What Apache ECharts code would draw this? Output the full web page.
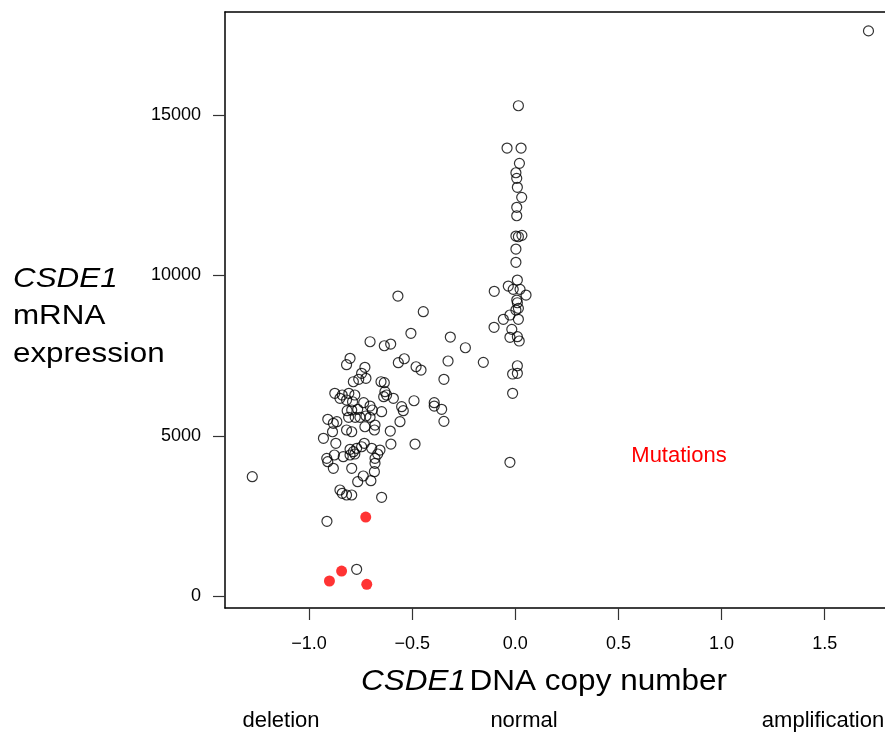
<!DOCTYPE html>
<html>
<head>
<meta charset="utf-8">
<script src="https://cdn.jsdelivr.net/npm/echarts@6/dist/echarts.min.js"></script>
<style>
  html, body { margin: 0; padding: 0; background: #fff; }
  #chart { width: 885px; height: 732px; }
</style>
</head>
<body>
<div id="chart"></div>
<script>
// CSDE1 DNA copy number (log2 ratio) per sample, without mutations
const copyNumber = [
  1.712, -1.275, -0.913, -0.769,
  0.015, -0.040, 0.028, 0.020, 0.003, 0.007, 0.010, 0.031, 0.007, 0.007,
  0.003, 0.015, 0.032, 0.003, 0.003, 0.010, -0.034, -0.102, -0.010, 0.023,
  0.052, 0.007, 0.010, 0.003, 0.015, -0.026, -0.058, 0.015, -0.103, -0.017,
  -0.026, 0.010, 0.019, -0.242, -0.155, 0.010, -0.013, 0.010, -0.013, -0.026,
  -0.569, -0.446, -0.506, -0.704, -0.635, -0.604, -0.315, -0.326, -0.346, -0.346,
  -0.393, -0.393, -0.357, -0.486, -0.491, -0.538, -0.567, -0.481, -0.457, -0.603,
  -0.648, -0.559,
  -0.801, -0.818, -0.729, -0.745, -0.759, -0.724, -0.785, -0.651, -0.635,
  -0.632, -0.624, -0.638, -0.591, -0.875, -0.839, -0.807, -0.778,
  -0.850, -0.818, -0.789, -0.735, -0.704, -0.693, -0.551, -0.543,
  -0.815, -0.793, -0.764, -0.808, -0.776, -0.753, -0.724, -0.704, -0.648,
  -0.680, -0.683, -0.909, -0.882, -0.865, -0.930, -0.870, -0.886,
  -0.818, -0.793, -0.729, -0.606, -0.732, -0.745, -0.769, -0.801,
  -0.696, -0.656, -0.667, -0.680, -0.877, -0.834, -0.801, -0.778, -0.785,
  -0.914, -0.909, -0.882, -0.793, -0.680, -0.683, -0.737, -0.764, -0.700,
  -0.850, -0.839, -0.818, -0.793
];
// CSDE1 mRNA expression for the same samples
const expression = [
  17620, 3732, 2343, 847,
  15289, 13971, 13971, 13494, 13201, 13027, 12747, 12435, 12124, 11862,
  11230, 11208, 11251, 10825, 10411, 9859, 9672, 9507, 9569, 9569,
  9392, 9236, 9152, 8925, 8977, 8769, 8635, 8635, 8386, 8323,
  8074, 8093, 7959, 7750, 7295, 7189, 6931, 6953, 6330, 4180,
  9360, 8872, 8199, 7937, 7812, 7865, 8083, 7336, 6766, 5457,
  6037, 5934, 5831, 4750, 6099, 7407, 7283, 7158, 7055, 4750,
  3090, 5445,
  7420, 7221, 7140, 6953, 6766, 6797, 6691, 6691, 6660,
  6380, 6277, 6224, 6174, 6330, 6277, 6330, 6277,
  6174, 6121, 6068, 6037, 5934, 5810, 5913, 5788,
  5788, 5810, 5831, 5582, 5582, 5582, 5623, 5582, 5757,
  5342, 5187, 5520, 5395, 5445, 4928, 4772, 5133,
  5187, 5133, 5289, 5155, 4772, 4666, 4616, 4585,
  4616, 4563, 4439, 4304, 4408, 4355, 4408, 4439, 4511,
  4304, 4200, 3993, 3993, 4149, 3888, 3754, 3576, 3607,
  3318, 3215, 3162, 3162
];
// Samples carrying CSDE1 mutations
const mutCopyNumber = [-0.725, -0.901, -0.842, -0.720];
const mutExpression = [2476, 483, 794, 380];

const xTicks = [-1.0, -0.5, 0.0, 0.5, 1.0, 1.5];
const yTicks = [0, 5000, 10000, 15000];
const regionLabels = ['deletion', 'normal', 'amplification'];

const FONT = "'Liberation Sans', Arial, sans-serif";
const X_MIN = -1.4072, X_MAX = 1.7921;
const Y_MIN = -358, Y_MAX = 18209;

const pairs = (xs, ys) => xs.map((x, i) => [x, ys[i]]);
const fmtX = v => (v < 0 ? '\u2212' + Math.abs(v).toFixed(1) : v.toFixed(1));

const chart = echarts.init(document.getElementById('chart'), null, { renderer: 'canvas' });

// y-axis title, three stacked lines drawn slightly widened
const yTitleLine = (text, y, italic) => ({
  type: 'text', x: 13, y: y, scaleX: 1.12, scaleY: 1,
  style: { text: text, fill: '#000', font: (italic ? 'italic ' : '') + '28px ' + FONT,
           align: 'left', verticalAlign: 'middle' }
});
const regionLabel = (text, x) => ({
  type: 'text', x: x, y: 721,
  style: { text: text, fill: '#000', font: '22px ' + FONT, align: 'center', verticalAlign: 'middle' }
});

chart.setOption({
  backgroundColor: '#ffffff',
  animation: false,
  grid: { left: 225, top: 12, right: 0, bottom: 124, containLabel: false },
  xAxis: [
    {
      type: 'value', min: X_MIN, max: X_MAX, position: 'bottom',
      axisLine: { show: true, onZero: false, lineStyle: { color: '#000', width: 1.5 } },
      axisTick: { show: true, inside: false, length: 12, customValues: xTicks,
                  lineStyle: { color: '#333', width: 1.2 } },
      axisLabel: { show: true, customValues: xTicks, margin: 27, formatter: fmtX,
                   color: '#000', fontFamily: FONT, fontSize: 18 },
      splitLine: { show: false }
    },
    {
      type: 'value', min: X_MIN, max: X_MAX, position: 'top',
      axisLine: { show: true, onZero: false, lineStyle: { color: '#000', width: 1.5 } },
      axisTick: { show: false }, axisLabel: { show: false }, splitLine: { show: false }
    }
  ],
  yAxis: {
    type: 'value', min: Y_MIN, max: Y_MAX,
    axisLine: { show: true, onZero: false, lineStyle: { color: '#000', width: 1.5 } },
    axisTick: { show: true, inside: false, length: 12, customValues: yTicks,
                lineStyle: { color: '#333', width: 1.2 } },
    axisLabel: { show: true, customValues: yTicks, margin: 24, formatter: v => String(v),
                 color: '#000', fontFamily: FONT, fontSize: 18 },
    splitLine: { show: false }
  },
  series: [
    {
      type: 'scatter', xAxisIndex: 0,
      data: pairs(copyNumber, expression),
      symbol: 'circle', symbolSize: 10,
      itemStyle: { color: 'rgba(255,255,255,0)', borderColor: '#000', borderWidth: 1.2 },
      emphasis: { disabled: true }
    },
    {
      type: 'scatter', xAxisIndex: 0,
      data: pairs(mutCopyNumber, mutExpression),
      symbol: 'circle', symbolSize: 11,
      itemStyle: { color: '#ff0000', borderColor: '#ff0000', borderWidth: 0 },
      emphasis: { disabled: true }
    }
  ],
  graphic: [
    yTitleLine('CSDE1', 279, true),
    yTitleLine('mRNA', 316, false),
    yTitleLine('expression', 354, false),
    { type: 'text', x: 544, y: 682, scaleX: 1.05, scaleY: 1,
      style: {
        text: '{i|CSDE1} {n|DNA copy number}', align: 'center', verticalAlign: 'middle',
        rich: {
          i: { fontFamily: FONT, fontSize: 30, fontStyle: 'italic', color: '#000' },
          n: { fontFamily: FONT, fontSize: 30, color: '#000' }
        }
      } },
    { type: 'text', x: 679, y: 456,
      style: { text: 'Mutations', fill: '#ff0000', font: '22px ' + FONT,
               align: 'center', verticalAlign: 'middle' } },
    regionLabel(regionLabels[0], 281),
    regionLabel(regionLabels[1], 524),
    regionLabel(regionLabels[2], 823)
  ]
});
</script>
</body>
</html>
